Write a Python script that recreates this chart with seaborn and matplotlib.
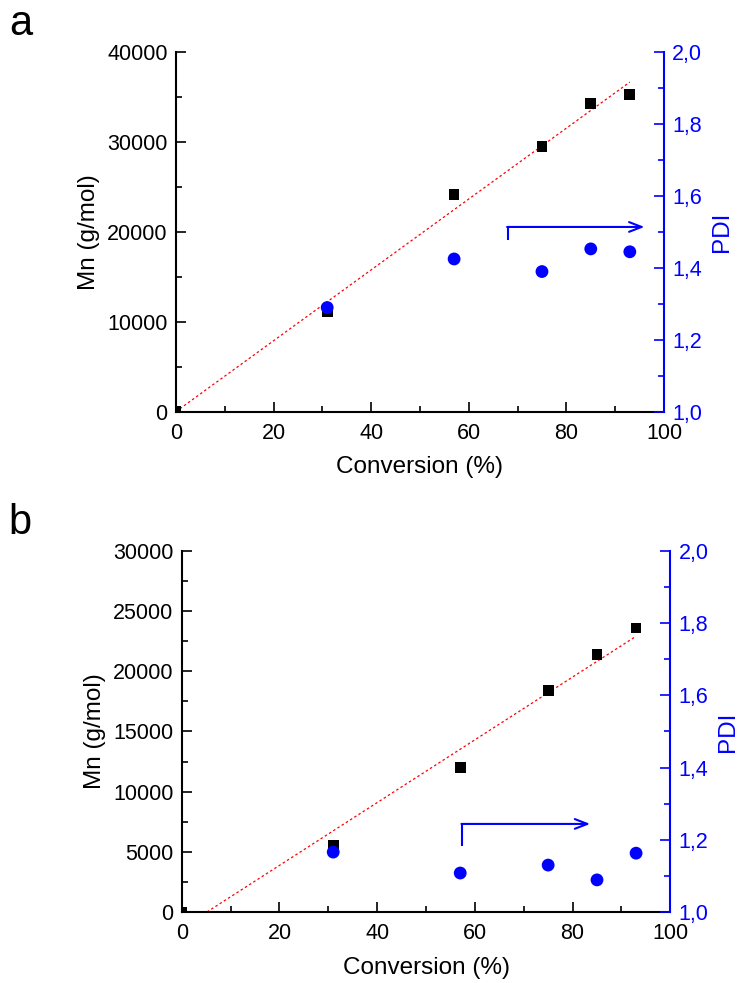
import numpy as np
import pandas as pd
import matplotlib
matplotlib.use("Agg")
import matplotlib.pyplot as plt
import seaborn as sns
from matplotlib.ticker import MultipleLocator, FuncFormatter

# data
conversion = [0, 31, 57, 75, 85, 93]
mn_a = [0, 11200, 24200, 29500, 34300, 35300]
mn_b = [0, 5500, 12000, 18400, 21400, 23600]
conv_pdi = [31, 57, 75, 85, 93]
pdi_a = [1.29, 1.425, 1.39, 1.453, 1.445]
pdi_b = [1.166, 1.108, 1.13, 1.089, 1.163]

# "PDI" arrows: (x start, pdi start, pdi corner, x end)
arrow_a = [68, 1.478, 1.514, 96]
arrow_b = [57.4, 1.183, 1.244, 83.6]

sns.set_style("ticks")
plt.rcParams['font.family'] = ['Liberation Sans', 'DejaVu Sans']
plt.rcParams.update({"text.color": "black", "axes.labelcolor": "black",
                     "xtick.color": "black", "ytick.color": "black",
                     "axes.edgecolor": "black"})

BLUE = "#0000ff"
TICK_FS = 15.5
LABEL_FS = 17.5

fig = plt.figure(figsize=(7.39, 9.83), dpi=100)
ax_a = fig.add_axes([0.238, 0.581, 0.6605, 0.366])
ax_b = fig.add_axes([0.246, 0.0722, 0.661, 0.3673])


def panel(ax, mn, pdi, arrow, ymax, ymajor, letter):
    df = pd.DataFrame({"conv": conversion, "mn": mn})
    dp = pd.DataFrame({"conv": conv_pdi, "pdi": pdi})

    # linear fit incl. origin
    k, b = np.polyfit(conversion, mn, 1)
    xf = np.array([0, conversion[-1]])
    ax.plot(xf, k * xf + b, color="red", lw=0.9, ls=(0, (2, 2)), zorder=2)

    sns.scatterplot(data=df, x="conv", y="mn", marker="s", s=60, color="black",
                    edgecolor="none", ax=ax, zorder=3)
    ax.set_xlim(0, 100)
    ax.set_ylim(0, ymax)
    ax.xaxis.set_major_locator(MultipleLocator(20))
    ax.xaxis.set_minor_locator(MultipleLocator(10))
    ax.yaxis.set_major_locator(MultipleLocator(ymajor))
    ax.yaxis.set_minor_locator(MultipleLocator(ymajor / 2))
    ax.set_xlabel("Conversion (%)", fontsize=LABEL_FS, labelpad=9)
    ax.set_ylabel("Mn (g/mol)", fontsize=LABEL_FS, labelpad=5)
    ax.tick_params(which="both", direction="in", labelsize=TICK_FS, width=1.2)
    ax.tick_params(axis="x", pad=8)
    ax.tick_params(axis="y", pad=6)
    ax.tick_params(which="major", length=7)
    ax.tick_params(which="minor", length=4)
    for s in ["left", "bottom"]:
        ax.spines[s].set_linewidth(1.5)
    ax.spines["top"].set_visible(False)
    ax.spines["right"].set_visible(False)

    ax2 = ax.twinx()
    sns.scatterplot(data=dp, x="conv", y="pdi", marker="o", s=85, color=BLUE,
                    edgecolor="none", ax=ax2, zorder=4)
    ax2.set_ylim(1.0, 2.0)
    ax2.yaxis.set_major_locator(MultipleLocator(0.2))
    ax2.yaxis.set_minor_locator(MultipleLocator(0.1))
    ax2.yaxis.set_major_formatter(FuncFormatter(lambda v, p: f"{v:.1f}".replace(".", ",")))
    ax2.set_ylabel("PDI", fontsize=LABEL_FS, color=BLUE, labelpad=6)
    ax2.tick_params(which="both", direction="in", labelsize=TICK_FS, width=1.2,
                    colors=BLUE, pad=6)
    ax2.tick_params(which="major", length=7)
    ax2.tick_params(which="minor", length=4)
    ax2.spines["right"].set_color(BLUE)
    ax2.spines["right"].set_linewidth(1.5)
    for s in ["top", "left", "bottom"]:
        ax2.spines[s].set_visible(False)

    x0, y0, y1, x1 = arrow
    ax2.plot([x0, x0], [y0, y1], color=BLUE, lw=1.5, solid_capstyle="butt")
    ax2.annotate("", xy=(x1, y1), xytext=(x0 - 0.15, y1),
                 arrowprops=dict(arrowstyle="->,head_length=0.9,head_width=0.35",
                                 color=BLUE, lw=1.5, shrinkA=0, shrinkB=0))
    ax2.set_xlim(0, 100)

    fig.text(0.012, ax.get_position().y1 + 0.008, letter, fontsize=30,
             ha="left", va="bottom")


panel(ax_a, mn_a, pdi_a, arrow_a, 40000, 10000, "a")
panel(ax_b, mn_b, pdi_b, arrow_b, 30000, 5000, "b")

fig.savefig("out.png", dpi=100)
